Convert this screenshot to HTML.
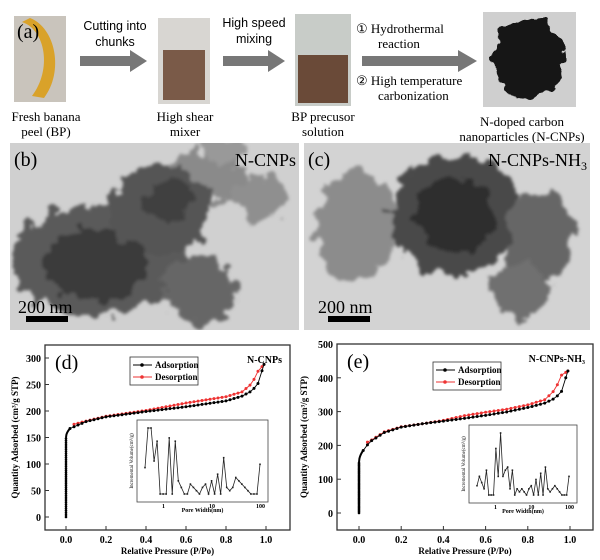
<!DOCTYPE html>
<html><head><meta charset="utf-8"><style>
html,body{margin:0;padding:0;background:#fff;width:600px;height:560px;overflow:hidden}
svg{display:block}
text{font-family:"Liberation Serif",serif}
text.sans{font-family:"Liberation Sans",sans-serif}
</style></head><body>
<svg id="s" width="600" height="560" viewBox="0 0 600 560" xmlns="http://www.w3.org/2000/svg">
<defs>
<filter id="tx" x="-20%" y="-20%" width="140%" height="140%">
<feTurbulence type="fractalNoise" baseFrequency="0.06" numOctaves="3" seed="3" result="n"/>
<feDisplacementMap in="SourceGraphic" in2="n" scale="28" xChannelSelector="R" yChannelSelector="G" result="d"/>
<feGaussianBlur in="d" stdDeviation="1.5"/>
</filter>
<filter id="bl2"><feGaussianBlur stdDeviation="2"/></filter>
<filter id="pw" x="-20%" y="-20%" width="140%" height="140%">
<feTurbulence type="fractalNoise" baseFrequency="0.08" numOctaves="2" seed="5" result="n"/>
<feDisplacementMap in="SourceGraphic" in2="n" scale="18" xChannelSelector="R" yChannelSelector="G"/>
</filter>
</defs>
<!-- (a) row -->
<rect x="14" y="16" width="52" height="86" fill="#c9c4bc"/>
<path d="M22 22 C46 30 52 70 32 96 L44 98 C64 72 56 28 30 18Z" fill="#d9a22a"/>
<text x="17" y="38" font-size="20">(a)</text>
<rect x="158" y="18" width="52" height="86" fill="#d8d6d2"/>
<rect x="163" y="50" width="42" height="50" fill="#7a5a48"/>
<rect x="295" y="14" width="56" height="92" fill="#c8ccc8"/>
<rect x="298" y="55" width="50" height="48" fill="#6a4a38"/>
<rect x="483" y="12" width="93" height="95" fill="#cfcfcf"/>
<g filter="url(#pw)"><ellipse cx="528" cy="58" rx="36" ry="40" fill="#151515"/></g>
<polygon points="80,56 130,56 130,50 147,61 130,72 130,66 80,66" fill="#777"/>
<polygon points="223,56 268,56 268,50 285,61 268,72 268,66 223,66" fill="#777"/>
<polygon points="362,56 458,56 458,50 477,61 458,72 458,66 362,66" fill="#777"/>
<g font-size="12.5" text-anchor="middle">
<text class="sans" x="115" y="30">Cutting into</text>
<text class="sans" x="115" y="46">chunks</text>
<text class="sans" x="254" y="27">High speed</text>
<text class="sans" x="254" y="43">mixing</text>
</g>
<g font-size="13">
<text x="356" y="33">① Hydrothermal</text><text x="378" y="48">reaction</text>
<text x="356" y="85">② High temperature</text><text x="378" y="100">carbonization</text>
</g>
<g font-size="13" text-anchor="middle">
<text x="46" y="121">Fresh banana</text><text x="46" y="136">peel (BP)</text>
<text x="185" y="121">High  shear</text><text x="185" y="136">mixer</text>
<text x="323" y="121">BP precusor</text><text x="323" y="136">solution</text>
<text x="522" y="126">N-doped carbon</text><text x="522" y="141">nanoparticles (N-CNPs)</text>
</g>
<!-- TEM -->
<clipPath id="cb"><rect x="10" y="143" width="289" height="187"/></clipPath>
<clipPath id="cc"><rect x="304" y="143" width="286" height="187"/></clipPath>
<rect x="10" y="143" width="289" height="187" fill="#d0d0d0"/>
<rect x="304" y="143" width="286" height="187" fill="#d3d3d3"/>
<g clip-path="url(#cb)" filter="url(#tx)">
<ellipse cx="210" cy="175" rx="40" ry="25" fill="#8a8a8a"/>
<ellipse cx="260" cy="200" rx="30" ry="20" fill="#8f8f8f"/>
<ellipse cx="225" cy="150" rx="22" ry="15" fill="#999"/>
<ellipse cx="100" cy="260" rx="90" ry="55" fill="#5a5a5a"/>
<ellipse cx="160" cy="210" rx="50" ry="45" fill="#555"/>
<ellipse cx="200" cy="290" rx="35" ry="35" fill="#666"/>
<ellipse cx="95" cy="265" rx="50" ry="35" fill="#3a3a3a"/>
<ellipse cx="170" cy="200" rx="25" ry="22" fill="#3f3f3f"/>
</g>
<g clip-path="url(#cc)" filter="url(#tx)">
<ellipse cx="355" cy="225" rx="40" ry="55" fill="#8c8c8c"/>
<ellipse cx="455" cy="215" rx="65" ry="60" fill="#4a4a4a"/>
<ellipse cx="455" cy="215" rx="40" ry="38" fill="#2e2e2e"/>
<ellipse cx="540" cy="235" rx="35" ry="45" fill="#666"/>
<ellipse cx="520" cy="290" rx="28" ry="28" fill="#707070"/>
</g>
<text x="14" y="166" font-size="20">(b)</text>
<text x="296" y="166" font-size="18" text-anchor="end">N-CNPs</text>
<text x="308" y="166" font-size="20">(c)</text>
<text x="587" y="166" font-size="18" text-anchor="end">N-CNPs-NH<tspan font-size="12" dy="4">3</tspan></text>
<text x="18" y="313" font-size="18">200 nm</text><rect x="26" y="316" width="42" height="6" fill="#000"/>
<text x="318" y="313" font-size="18">200 nm</text><rect x="328" y="316" width="42" height="6" fill="#000"/>
<g id="plots"></g>
</svg>
<script>
var NS="http://www.w3.org/2000/svg",G=document.getElementById("plots");
function el(t,a,tx){var e=document.createElementNS(NS,t);for(var k in a)e.setAttribute(k,a[k]);if(tx!=null)e.textContent=tx;G.appendChild(e);return e;}
function interp(pts,x){for(var i=0;i<pts.length-1;i++){if(x<=pts[i+1][0]){var a=pts[i],b=pts[i+1];return a[1]+(b[1]-a[1])*(x-a[0])/(b[0]-a[0]);}}return pts[pts.length-1][1];}
function plot(o){
 var L=o.L,R=o.R,T=o.T,B=o.B;
 el("rect",{x:L,y:T,width:R-L,height:B-T,fill:"none",stroke:"#333","stroke-width":1.3});
 var X=function(p){return o.x0+(o.x1-o.x0)*p},Y=function(q){return o.y0-(o.y0-o.yT)*q/o.qmax};
 for(var p=0;p<=1.001;p+=0.2){el("line",{x1:X(p),y1:B,x2:X(p),y2:B-4,stroke:"#333"});el("text",{x:X(p),y:B+13,"font-size":10,"font-weight":"bold","text-anchor":"middle"},p.toFixed(1));}
 for(var q=0;q<=o.qmax;q+=o.qs){el("line",{x1:L,y1:Y(q),x2:L+4,y2:Y(q),stroke:"#333"});el("text",{x:L-4,y:Y(q)+4,"font-size":10,"font-weight":"bold","text-anchor":"end"},q);}
 el("text",{x:(L+R)/2,y:B+24,"font-size":9,"font-weight":"bold","text-anchor":"middle"},"Relative Pressure (P/Po)");
 el("text",{transform:"translate("+(o.ylx)+","+((T+B)/2)+") rotate(-90)","font-size":9,"font-weight":"bold","text-anchor":"middle"},"Quantity Adsorbed (cm³/g STP)");
 el("text",{x:L+10,y:T+24,"font-size":20},o.lab);
 el("text",{x:R-8,y:T+18,"font-size":10,"font-weight":"bold","text-anchor":"end"},o.name);
 var lx=o.lgx,ly=o.lgy;el("rect",{x:lx,y:ly,width:68,height:28,fill:"#fff",stroke:"#333","stroke-width":0.8});
 el("line",{x1:lx+3,y1:ly+8,x2:lx+22,y2:ly+8,stroke:"#000"});el("circle",{cx:lx+12,cy:ly+8,r:1.8});
 el("line",{x1:lx+3,y1:ly+20,x2:lx+22,y2:ly+20,stroke:"#e33"});el("circle",{cx:lx+12,cy:ly+20,r:1.8,fill:"#e33"});
 el("text",{x:lx+25,y:ly+11,"font-size":9,"font-weight":"bold"},"Adsorption");
 el("text",{x:lx+25,y:ly+23,"font-size":9,"font-weight":"bold"},"Desorption");
 function cur(pts,col,start){var s="",i;var xs=[];for(var p=start;p<=pts[pts.length-1][0]+1e-9;p+=0.02)xs.push(p);
  xs.push(pts[pts.length-1][0]);
  for(i=0;i<xs.length;i++)s+=X(xs[i])+","+Y(interp(pts,xs[i]))+" ";
  el("polyline",{points:s,fill:"none",stroke:col,"stroke-width":0.9});
  for(i=0;i<xs.length;i++)el("circle",{cx:X(xs[i]),cy:Y(interp(pts,xs[i])),r:1.5,fill:col});}
 for(var q=0;q<=o.vtop;q+=4)el("circle",{cx:X(0),cy:Y(q),r:1.3,fill:"#000"});
 var cs="";for(var p=0;p<=0.02;p+=0.002)cs+=X(p)+","+Y(o.vtop+(interp(o.ads,0.02)-o.vtop)*Math.sqrt(p/0.02))+" ";
 el("polyline",{points:cs,fill:"none",stroke:"#000","stroke-width":2});
 cur(o.des,"#e33",0.04);cur(o.ads,"#000",0.02);
 var il=o.in[0],it=o.in[1],ir=o.in[2],ib=o.in[3];
 el("rect",{x:il,y:it,width:ir-il,height:ib-it,fill:"#fff",stroke:"#444","stroke-width":0.8});
 var s="",n=o.spk;for(var i=0;i<n.length;i++){var xx=il+8+(ir-il-16)*i/(n.length-1),yy=ib-8-(ib-it-16)*n[i];s+=xx+","+yy+" ";el("rect",{x:xx-0.8,y:yy-0.8,width:1.6,height:1.6,fill:"#222"});}
 el("polyline",{points:s,fill:"none",stroke:"#222","stroke-width":0.8});
 el("text",{x:(il+ir)/2,y:ib+10,"font-size":6,"font-weight":"bold","text-anchor":"middle"},"Pore Width(nm)");
 el("text",{x:il+25,y:ib+6,"font-size":6,"font-weight":"bold"},"1");
 el("text",{x:il+(ir-il)*0.55,y:ib+6,"font-size":6,"font-weight":"bold"},"10");
 el("text",{x:ir-12,y:ib+6,"font-size":6,"font-weight":"bold"},"100");
 el("text",{transform:"translate("+(il-4)+","+((it+ib)/2)+") rotate(-90)","font-size":5,"text-anchor":"middle"},"Incremental Volume(cm³/g)");
}
plot({L:45,R:290,T:345,B:530,x0:66,x1:266,y0:517,yT:358,qmax:300,qs:50,ylx:18,lab:"(d)",name:"N-CNPs",lgx:130,lgy:357,vtop:150,
 ads:[[0,160],[0.02,167],[0.1,180],[0.2,189],[0.4,199],[0.6,208],[0.8,219],[0.88,228],[0.93,238],[0.96,252],[0.99,288]],
 des:[[0,170],[0.04,175],[0.1,181],[0.2,190],[0.4,201],[0.6,215],[0.8,227],[0.88,236],[0.93,252],[0.96,275],[0.99,288]],
 in:[137,420,268,502],spk:[0.4,1,1,0.5,0.8,0,0,0,0.85,0,0.8,0.2,0.1,0,0,0.15,0.1,0.05,0,0.1,0.15,0,0.2,0,0.3,0,0.55,0.1,0.05,0.1,0.25,0.2,0.15,0.1,0.05,0,0,0,0.45]});
plot({L:337,R:593,T:344,B:530,x0:359,x1:570,y0:513,yT:344,qmax:500,qs:100,ylx:307,lab:"(e)",name:"N-CNPs-NH₃",lgx:433,lgy:362,vtop:150,
 ads:[[0,165],[0.02,185],[0.05,210],[0.12,238],[0.2,254],[0.3,264],[0.4,272],[0.5,280],[0.6,289],[0.7,299],[0.8,312],[0.88,325],[0.93,340],[0.96,360],[0.99,420]],
 des:[[0,200],[0.05,212],[0.12,240],[0.2,255],[0.3,264],[0.4,274],[0.5,288],[0.6,298],[0.7,307],[0.8,320],[0.88,335],[0.93,365],[0.96,408],[0.99,420]],
 in:[469,425,577,503],spk:[0.15,0.3,0.2,0.1,0.4,0,0,0,0.75,0.3,1,0.3,0.4,0.45,0.1,0.4,0,0.1,0.05,0.1,0.05,0,0.1,0.15,0,0.25,0,0.35,0,0.45,0.1,0.05,0.1,0.15,0.1,0.05,0,0,0,0.3]});
</script>
</body></html>
